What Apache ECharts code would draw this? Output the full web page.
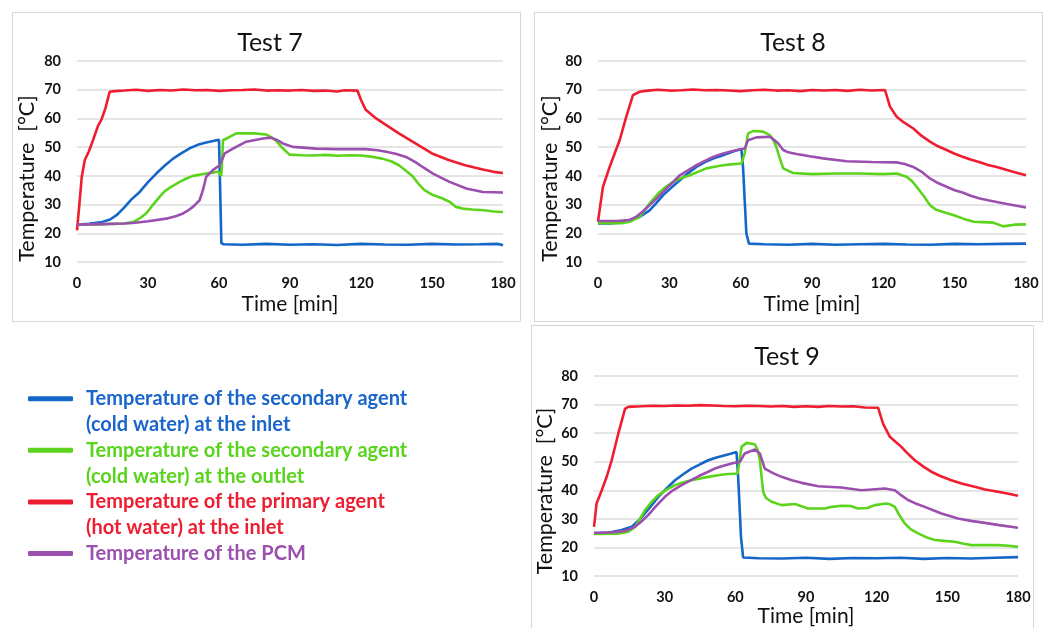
<!DOCTYPE html>
<html>
<head>
<meta charset="utf-8">
<script src="https://cdn.jsdelivr.net/npm/echarts@6/dist/echarts.min.js"></script>
<style>
html,body{margin:0;padding:0;background:#fff;}
#c{width:1059px;height:628px;}
</style>
</head>
<body>
<div id="c"></div>
<script>
// ---------- DATA ----------
const testNames = ['Test 7', 'Test 8', 'Test 9'];
const seriesNames = [
  'Temperature of the secondary agent (cold water) at the inlet',
  'Temperature of the secondary agent (cold water) at the outlet',
  'Temperature of the primary agent (hot water) at the inlet',
  'Temperature of the PCM'
];
const legendLabels = [
  ['Temperature of the secondary agent', '(cold water) at the inlet'],
  ['Temperature of the secondary agent', '(cold water) at the outlet'],
  ['Temperature of the primary agent', '(hot water) at the inlet'],
  ['Temperature of the PCM', ' ']
];
const xTicks = [0, 30, 60, 90, 120, 150, 180];
const yTicks = [10, 20, 30, 40, 50, 60, 70, 80];

// Test 7
const t7ColdIn = [[0,23],[5,23.3],[10,23.8],[14,24.8],[17,26.5],[20,29],[23,31.8],[26.5,34.4],[30,37.8],[33.5,40.8],[37,43.5],[40.6,46],[44,47.8],[47.6,49.6],[51,50.8],[54.6,51.6],[58,52.2],[60,52.6],[60.5,35],[61,16.5],[62,16.2],[70,16],[80,16.3],[90,16],[100,16.2],[110,15.9],[120,16.3],[130,16.1],[140,16],[150,16.3],[160,16.1],[170,16.2],[178,16.3],[180,15.8]];
const t7ColdOut = [[0,23],[10,23.1],[20,23.4],[24,24],[27,25.5],[29.3,27],[32,29.8],[34.9,32.7],[37,34.6],[39.1,35.8],[43.4,37.9],[46,39],[49,40],[54.6,40.8],[58,41.2],[59.6,41.5],[61,40],[61.7,52.4],[64.5,53.6],[67.3,54.8],[75,54.8],[80,54.4],[82,53.5],[84.2,52.2],[87,49.5],[89.8,47.4],[95,47.2],[100,47.1],[105,47.3],[110,47],[115,47.2],[120,47.1],[125,46.6],[129,46],[133,45],[136,43.7],[139,41.8],[142,39.7],[144.5,37],[146.8,35],[150.4,33.3],[154,32.3],[157.4,31],[160,29.2],[163,28.6],[167,28.3],[172,28],[176,27.6],[180,27.4]];
const t7HotIn = [[0,21],[1,30],[2,39.6],[3.3,45.5],[5,48.5],[6.8,52.5],[8.9,57.5],[10.3,59.5],[12,63.5],[13.8,69.3],[16,69.5],[20,69.7],[25,70],[30,69.6],[35,69.9],[40,69.7],[45,70.1],[50,69.8],[55,69.9],[60,69.6],[65,69.8],[70,69.9],[75,70.1],[80,69.7],[85,69.8],[90,69.7],[95,69.9],[100,69.6],[105,69.7],[110,69.4],[113,69.8],[118.5,69.7],[120,66.4],[122,63],[126.4,60],[131,57.5],[136,54.8],[143,51.3],[150,47.8],[157,45.5],[164,43.7],[171.5,42.2],[176,41.4],[180,41]];
const t7Pcm = [[0,23],[10,23.2],[20,23.4],[23.6,23.6],[30,24.2],[37.7,25.1],[42,26],[44.8,26.9],[47,28],[49,29.2],[51.8,31.5],[53.2,35],[54.6,39.7],[57.4,42],[60.3,43.7],[62.4,47.8],[65.9,49.5],[71.5,51.9],[78.6,53],[82,53.3],[85,52.3],[87,51.3],[91.2,50.1],[101,49.5],[110,49.3],[122,49.3],[127,48.9],[130.7,48.4],[135,47.6],[139,46.6],[143,44.8],[146,43.1],[150.4,40.8],[157.4,37.9],[164.5,35.6],[171.5,34.4],[180,34.2]];

// Test 8
const t8ColdIn = [[0,23.4],[5,23.4],[10,23.8],[13.3,24.5],[17.5,25.7],[21.7,28],[24.5,30.5],[27.4,33.3],[31,36],[34.4,38.5],[38,41],[41.4,43.1],[45,44.8],[48.4,46],[52,47],[55.4,48],[58,48.8],[60.3,49.3],[61,43],[62.4,19.9],[63.5,16.4],[70,16.2],[80,16],[90,16.3],[100,16],[110,16.2],[120,16.3],[130,16.1],[140,16],[150,16.3],[160,16.2],[170,16.3],[180,16.4]];
const t8ColdOut = [[0,23.5],[10,23.5],[13.3,24],[17.5,25.7],[19.5,28],[21.7,30.4],[24,32.6],[26,34.4],[28.7,36.3],[31.6,37.9],[35,39.2],[38.6,40.2],[42,41.4],[45.6,42.6],[49,43.2],[52.6,43.7],[56,44],[60.3,44.3],[61.7,47.8],[63.1,54.8],[65.2,55.6],[69.4,55.4],[72.3,54.2],[74,52],[75,50.1],[76.5,46],[77.9,42.6],[82,41],[90,40.6],[100,40.8],[110,40.8],[120,40.6],[125.6,40.8],[129.8,39.7],[132,38.2],[134,36.2],[137,33],[139.6,29.8],[142,28.3],[145.2,27.4],[150,26.2],[153.6,25.1],[158,24],[162,23.9],[166.3,23.7],[170.5,22.4],[175,23],[180,23.1]];
const t8HotIn = [[0,24],[1,30],[2.1,36.2],[4.9,43.1],[7,47.8],[9.1,52.4],[11.9,60.6],[14.7,68.1],[17.5,69.3],[20,69.6],[25,70],[30,69.7],[35,69.8],[40,70.1],[45,69.8],[50,69.9],[55,69.7],[60,69.5],[65,69.8],[70,70],[75,69.7],[80,69.8],[85,69.5],[90,69.9],[95,69.7],[100,69.9],[105,69.6],[110,70],[115,69.7],[120.7,69.9],[122.8,64.1],[125.6,60.6],[128,59],[132.6,56.5],[136,54],[139.6,51.9],[143,50.3],[146.6,49],[150,47.7],[153.6,46.6],[157,45.6],[160.6,44.7],[164,43.8],[167.7,43.1],[172,42],[176,41.1],[180,40.2]];
const t8Pcm = [[0,24.3],[8,24.3],[13,24.6],[16,25.7],[18.8,27.6],[21.7,29.8],[24.5,32],[27.4,34.4],[31,37.4],[34.4,40.2],[38,42],[41.4,43.7],[45,45.2],[48.4,46.6],[52,47.6],[55.4,48.4],[58.5,49],[61.7,49.5],[63.1,52.4],[66.6,53.4],[72.3,53.6],[74,52.6],[75.8,51.3],[77.9,49],[80,48.2],[83.5,47.6],[89,46.8],[94.7,46.1],[104.5,45.1],[115,44.8],[125.6,44.7],[129,44.1],[132.6,43.1],[136,41.5],[139.6,39.1],[143,37.5],[146.6,36.2],[150,35],[153.6,34.1],[157,33],[160.6,32.1],[164,31.5],[167.7,30.9],[172,30.2],[176,29.6],[180,29]];

// Test 9
const t9ColdIn = [[0,24.9],[6,25.1],[11.7,26.1],[16,27.2],[19,29.5],[21.6,31.9],[24.5,34.8],[27.3,37.7],[31,40.8],[34.4,43.5],[38,45.7],[41.4,47.6],[45,49.1],[48.5,50.5],[52,51.5],[55.6,52.3],[58,52.8],[60.5,53.4],[61.2,44.7],[62.4,23.7],[63.3,16.5],[70,16.2],[80,16.1],[90,16.4],[100,16],[110,16.3],[120,16.2],[130,16.4],[140,16],[150,16.3],[160,16.1],[170,16.4],[180,16.6]];
const t9ColdOut = [[0,24.7],[10,24.8],[14.6,25.5],[17.4,27.2],[19.5,30],[21.6,33],[24.5,36],[27.3,38.3],[31,40.3],[34.4,41.8],[38,42.8],[41.4,43.5],[45,44.1],[48.5,44.7],[52,45.2],[55.6,45.6],[61,45.9],[62.6,55.2],[64.8,56.6],[68.3,56.1],[69.5,54],[70.4,50.5],[71.8,39.5],[73,37.3],[75.4,36],[79.6,34.8],[85.3,35.2],[90.9,33.6],[98,33.6],[101,34.2],[105,34.6],[109,34.5],[112,33.6],[116,33.8],[119.2,34.8],[124.1,35.4],[126,35],[127.7,34.2],[129.5,31.5],[131.9,28.4],[134.5,26.3],[137.6,24.9],[141,23.6],[144.7,22.6],[150,22.2],[153.1,22],[157,21.3],[160.2,20.8],[171.5,20.8],[176,20.6],[180,20.2]];
const t9HotIn = [[0,27.2],[1.1,35.4],[3.3,40],[5.5,45],[7.5,50.5],[10.3,59.8],[13.2,68.6],[14.6,69.2],[20,69.4],[25,69.6],[30,69.5],[35,69.7],[40,69.6],[45,69.8],[50,69.7],[55,69.5],[60,69.4],[65,69.6],[70,69.5],[75,69.3],[80,69.5],[85,69.2],[90,69.4],[95,69.2],[100,69.5],[105,69.3],[110,69.4],[115,69],[120.6,68.9],[122.7,63.3],[125.6,58.7],[128,57],[130.5,55.2],[133,53],[136.2,50.5],[140,48.2],[143.2,46.5],[147,45],[151.7,43.5],[156,42.4],[161.6,41.2],[166,40.3],[171.5,39.5],[176,38.8],[180,38.1]];
const t9Pcm = [[0,25.1],[8,25.3],[13.2,25.8],[17.4,27.2],[20,29],[23,31.3],[26.5,34.6],[30.1,37.7],[33.5,40],[37.2,41.8],[41,43.5],[44.3,44.9],[48,46.3],[51.3,47.6],[55,48.6],[58.4,49.4],[61.9,50],[64,52.9],[68.3,54.3],[70.4,52.9],[72.5,47.6],[76,46],[79.6,44.7],[84,43.5],[88.1,42.6],[95.2,41.4],[105,41],[113.5,40],[118,40.3],[123.4,40.6],[127.7,40],[130.5,38.2],[133.3,36.6],[136.5,35.4],[140.4,34.2],[144,33],[147.5,31.9],[151,31],[154.5,30.1],[160,29.3],[165.9,28.6],[172,27.8],[180,26.9]];

const tests = [
  [t7ColdIn, t7ColdOut, t7HotIn, t7Pcm],
  [t8ColdIn, t8ColdOut, t8HotIn, t8Pcm],
  [t9ColdIn, t9ColdOut, t9HotIn, t9Pcm]
];

// ---------- STYLE / LAYOUT ----------
const colors = ['#1466c8', '#5cd41c', '#ee1d2f', '#9b4fae'];
const textColors = ['#1a66cc', '#58d41c', '#ee1d2f', '#9b4fae'];
const FONT = 'Lato, "Open Sans", "DejaVu Sans", sans-serif';
const grids = [
  {left: 77, top: 61, width: 426, height: 201},
  {left: 598, top: 61, width: 428, height: 201},
  {left: 594, top: 376, width: 424, height: 200}
];
const titlePos = [[265, 25], [788, 25], [782, 339]];
const yNameGap = [39, 37, 38];
const yNameShift = [34, 34, 30];
const xNameGap = [32, 32, 29];
const frames = [[12, 12, 508, 309], [534, 12, 508, 309], [531, 325, 502, 310]];
const LH = 25.8;

const option = {
  backgroundColor: '#fff',
  animation: false,
  title: testNames.map((t, i) => ({
    text: t, left: titlePos[i][0], top: titlePos[i][1], textAlign: 'center',
    textStyle: {fontFamily: FONT, fontSize: 25, fontWeight: 'normal', color: '#111'}
  })),
  graphic: frames.map(f => ({
    type: 'rect', shape: {x: f[0] + 0.5, y: f[1] + 0.5, width: f[2], height: f[3]},
    style: {fill: 'none', stroke: '#d6d6d6', lineWidth: 1}, silent: true, z: -1
  })),
  legend: {
    orient: 'vertical', left: 28, top: 360, padding: 0,
    itemWidth: 45, itemHeight: 5, itemGap: -LH, icon: 'roundRect',
    selectedMode: false,
    formatter: name => '\n' + legendLabels[seriesNames.indexOf(name)].join('\n'),
    textStyle: {fontFamily: FONT, fontWeight: 'bold', fontSize: 20, lineHeight: LH, padding: [0, 0, 0, 8]},
    data: seriesNames.map((n, i) => ({name: n, textStyle: {color: textColors[i]}}))
  },
  grid: grids,
  xAxis: grids.map((g, i) => ({
    type: 'value', gridIndex: i, min: 0, max: 180, interval: 30,
    name: 'Time [min]', nameLocation: 'middle', nameGap: xNameGap[i],
    nameTextStyle: {fontFamily: FONT, fontSize: 21, color: '#111'},
    axisLine: {show: false}, axisTick: {show: false}, splitLine: {show: false},
    axisLabel: {margin: 14, fontFamily: FONT, fontWeight: 'bold', fontSize: 14.5, color: '#111',
      formatter: v => xTicks.includes(v) ? String(v) : ''}
  })),
  yAxis: grids.map((g, i) => ({
    type: 'value', gridIndex: i, min: 10, max: 80, interval: 10,
    name: 'Temperature  [°C]', nameLocation: 'middle', nameGap: yNameGap[i],
    nameTextStyle: {fontFamily: FONT, fontSize: 21.5, color: '#111', padding: [0, yNameShift[i], 0, 0]},
    axisLine: {show: false}, axisTick: {show: false},
    splitLine: {show: true, lineStyle: {color: '#dcdcdc', width: 1.5}},
    axisLabel: {margin: 16, fontFamily: FONT, fontWeight: 'bold', fontSize: 14.5, color: '#111',
      formatter: v => yTicks.includes(v) ? String(v) : ''}
  })),
  series: []
};

tests.forEach((arrs, gi) => {
  arrs.forEach((d, si) => {
    option.series.push({
      type: 'line', name: seriesNames[si], xAxisIndex: gi, yAxisIndex: gi,
      data: d, showSymbol: false, symbol: 'none',
      lineStyle: {color: colors[si], width: 2.6},
      itemStyle: {color: colors[si]}, z: 2 + si
    });
  });
});

const chart = echarts.init(document.getElementById('c'), null, {renderer: 'canvas'});
chart.setOption(option);
</script>
</body>
</html>
